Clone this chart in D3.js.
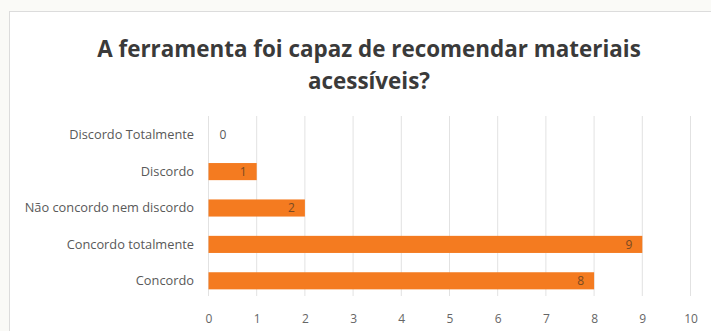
<!DOCTYPE html>
<html>
<head>
<meta charset="utf-8">
<script src="https://cdn.jsdelivr.net/npm/d3@7"></script>
<style>
  body { margin: 0; background: #fafaf7; }
  svg { display: block; }
  text { font-family: "Open Sans", sans-serif; }
</style>
</head>
<body>
<svg id="chart" width="711" height="331"></svg>
<script>
// data
var categories = ["Discordo Totalmente", "Discordo", "Não concordo nem discordo", "Concordo totalmente", "Concordo"];
var values = [0, 1, 2, 9, 8];
var xTicks = [0, 1, 2, 3, 4, 5, 6, 7, 8, 9, 10];
var titleLines = ["A ferramenta foi capaz de recomendar materiais", "acessíveis?"];

var svg = d3.select("#chart");

// chart area with thin border
svg.append("rect")
  .attr("x", 9.5).attr("y", 11.5)
  .attr("width", 720).attr("height", 340)
  .attr("fill", "#ffffff")
  .attr("stroke", "#dcdcdc");

var x = d3.scaleLinear().domain([0, 10]).range([208.5, 690.5]);
var y = d3.scaleBand().domain(categories)
  .range([117, 299])
  .paddingInner(0.53)
  .paddingOuter(0.265);

// title
var title = svg.append("g");
title.selectAll("text")
  .data(titleLines)
  .enter()
  .append("text")
  .attr("x", 369)
  .attr("y", function(d, i) { return 57 + i * 32; })
  .attr("text-anchor", "middle")
  .attr("font-size", 20)
  .attr("font-weight", "bold")
  .attr("fill", "#3a3a3a")
  .text(function(d) { return d; });

//shrink title so the first line is as wide as in the picture
var w = title.select("text").node().getComputedTextLength();
title.selectAll("text").attr("font-size", 20 * 544 / w);

// vertical gridlines
svg.append("g")
  .selectAll("line")
  .data(xTicks)
  .enter()
  .append("line")
  .attr("x1", function(d) { return x(d); })
  .attr("x2", function(d) { return x(d); })
  .attr("y1", 116)
  .attr("y2", 296)
  .attr("stroke", "#e2e2e2")
  .attr("stroke-width", 1);

// x axis labels
var xAxis = svg.append("g")
  .attr("transform", "translate(0,314)")
  .attr("color", "#666666")
  .call(d3.axisBottom(x).tickValues(xTicks).tickSize(0).tickPadding(0));
xAxis.select(".domain").remove();
xAxis.selectAll("text")
  .attr("font-size", 12)
  .style("font-family", "'Open Sans', sans-serif");

// category labels
var yAxis = svg.append("g")
  .attr("transform", "translate(194,0)")
  .attr("color", "#595959")
  .call(d3.axisLeft(y).tickSize(0).tickPadding(0));
yAxis.select(".domain").remove();
yAxis.selectAll("text")
  .attr("font-size", 12.8)
  .style("font-family", "'Open Sans', sans-serif");

// bars
svg.append("g")
  .selectAll("rect")
  .data(values)
  .enter()
  .append("rect")
  .attr("x", x(0))
  .attr("y", function(d, i) { return y(categories[i]); })
  .attr("width", function(d) { return x(d) - x(0); })
  .attr("height", y.bandwidth())
  .attr("fill", "#f47b20");

// value labels, inside end (zero sits just right of the axis)
svg.append("g")
  .selectAll("text")
  .data(values)
  .enter()
  .append("text")
  .attr("x", function(d) { return d == 0 ? x(0) + 11 : x(d) - 10; })
  .attr("y", function(d, i) { return y(categories[i]) + y.bandwidth() / 2; })
  .attr("dy", "0.35em")
  .attr("text-anchor", function(d) { return d == 0 ? "start" : "end"; })
  .attr("font-size", 12)
  .attr("fill", function(d) { return d == 0 ? "#595959" : "#7a4a22"; })
  .text(function(d) { return d; });
</script>
</body>
</html>
